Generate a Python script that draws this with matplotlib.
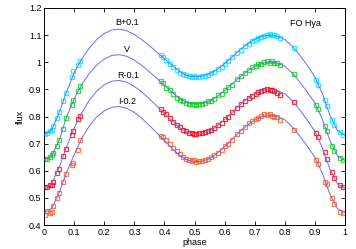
import matplotlib
matplotlib.use("Agg")
import matplotlib.pyplot as plt

plt.rcParams['font.family'] = ['Liberation Sans', 'DejaVu Sans']

# model curves (phase grid and fluxes)
model_phase = [0.000, 0.025, 0.050, 0.075, 0.100, 0.125, 0.150, 0.175, 0.200, 0.225,
               0.250, 0.275, 0.300, 0.325, 0.350, 0.375, 0.400, 0.425, 0.450, 0.475,
               0.500, 0.525, 0.550, 0.575, 0.600, 0.625, 0.650, 0.675, 0.700, 0.725,
               0.750, 0.775, 0.800, 0.825, 0.850, 0.875, 0.900, 0.925, 0.950, 0.975, 1.000]
model_B = [0.733, 0.750, 0.815, 0.892, 0.962, 1.012, 1.052, 1.084, 1.106, 1.119,
           1.122, 1.116, 1.102, 1.083, 1.061, 1.037, 1.013, 0.989, 0.966, 0.951,
           0.947, 0.949, 0.958, 0.973, 0.995, 1.020, 1.045, 1.067, 1.085, 1.096,
           1.100, 1.096, 1.084, 1.059, 1.026, 0.988, 0.946, 0.884, 0.805, 0.748, 0.731]
model_V = [0.640, 0.655, 0.712, 0.800, 0.866, 0.918, 0.958, 0.990, 1.012, 1.025,
           1.028, 1.022, 1.008, 0.988, 0.965, 0.940, 0.915, 0.890, 0.866, 0.851,
           0.846, 0.848, 0.857, 0.873, 0.895, 0.920, 0.945, 0.967, 0.985, 0.997,
           1.001, 0.997, 0.985, 0.960, 0.927, 0.890, 0.850, 0.790, 0.712, 0.655, 0.638]
model_R = [0.538, 0.553, 0.612, 0.690, 0.758, 0.813, 0.860, 0.894, 0.917, 0.930,
           0.933, 0.926, 0.911, 0.890, 0.865, 0.838, 0.811, 0.784, 0.759, 0.742,
           0.736, 0.738, 0.748, 0.765, 0.789, 0.815, 0.842, 0.865, 0.884, 0.896,
           0.900, 0.896, 0.884, 0.858, 0.824, 0.786, 0.745, 0.684, 0.606, 0.552, 0.536]
model_I = [0.446, 0.461, 0.520, 0.595, 0.660, 0.720, 0.765, 0.799, 0.821, 0.834,
           0.837, 0.830, 0.815, 0.793, 0.767, 0.739, 0.711, 0.683, 0.657, 0.640,
           0.633, 0.635, 0.646, 0.664, 0.689, 0.716, 0.744, 0.768, 0.787, 0.800,
           0.804, 0.800, 0.788, 0.762, 0.728, 0.690, 0.650, 0.590, 0.514, 0.461, 0.446]

# observations
obs_phase = [0.003, 0.010, 0.018, 0.025, 0.031, 0.042, 0.050, 0.064, 0.072, 0.092,
             0.097, 0.112, 0.120, 0.388, 0.395, 0.405, 0.418, 0.430, 0.440, 0.452,
             0.463, 0.470, 0.480, 0.490, 0.498, 0.505, 0.515, 0.525, 0.535, 0.545,
             0.556, 0.566, 0.578, 0.590, 0.600, 0.612, 0.625, 0.640, 0.655, 0.668,
             0.680, 0.692, 0.703, 0.712, 0.722, 0.732, 0.742, 0.750, 0.758, 0.765,
             0.775, 0.785, 0.830, 0.905, 0.912, 0.932, 0.940, 0.958, 0.965, 0.985, 0.993]
obs_B = [0.734, 0.738, 0.745, 0.752, 0.764, 0.795, 0.815, 0.857, 0.885, 0.946,
         0.968, 0.990, 1.005, 1.028, 1.020, 1.008, 0.995, 0.983, 0.972, 0.962,
         0.955, 0.952, 0.949, 0.946, 0.948, 0.944, 0.947, 0.950, 0.951, 0.954,
         0.960, 0.965, 0.975, 0.983, 0.993, 1.006, 1.018, 1.033, 1.046, 1.059,
         1.068, 1.078, 1.082, 1.090, 1.093, 1.098, 1.101, 1.103, 1.099, 1.102,
         1.097, 1.090, 1.052, 0.935, 0.918, 0.860, 0.840, 0.788, 0.770, 0.742, 0.733]
obs_V = [0.642, 0.644, 0.650, 0.658, 0.666, 0.693, 0.715, 0.754, 0.795, 0.844,
         0.862, 0.893, 0.912, 0.930, 0.922, 0.905, 0.897, 0.882, 0.870, 0.862,
         0.857, 0.850, 0.848, 0.845, 0.846, 0.843, 0.848, 0.846, 0.850, 0.857,
         0.858, 0.866, 0.878, 0.884, 0.897, 0.910, 0.918, 0.938, 0.948, 0.962,
         0.973, 0.982, 0.985, 0.994, 0.995, 1.001, 1.003, 0.998, 1.004, 0.996,
         0.999, 0.990, 0.955, 0.842, 0.826, 0.765, 0.748, 0.692, 0.674, 0.648, 0.641]
obs_R = [0.540, 0.542, 0.546, 0.548, 0.560, 0.591, 0.608, 0.653, 0.680, 0.733,
         0.748, 0.790, 0.801, 0.826, 0.818, 0.808, 0.793, 0.780, 0.770, 0.760,
         0.752, 0.748, 0.740, 0.738, 0.737, 0.735, 0.739, 0.738, 0.742, 0.745,
         0.752, 0.757, 0.768, 0.776, 0.792, 0.800, 0.815, 0.833, 0.845, 0.857,
         0.868, 0.876, 0.882, 0.889, 0.893, 0.898, 0.901, 0.897, 0.899, 0.893,
         0.885, 0.878, 0.852, 0.740, 0.726, 0.668, 0.642, 0.595, 0.575, 0.548, 0.540]
obs_I = [0.437, 0.452, 0.443, 0.448, 0.470, 0.499, 0.520, 0.560, 0.588, 0.622,
         0.628, 0.675, 0.715, 0.730, 0.725, 0.712, 0.700, 0.685, 0.672, 0.662,
         0.652, 0.645, 0.640, 0.636, 0.640, 0.633, 0.638, 0.636, 0.641, 0.645,
         0.650, 0.658, 0.665, 0.676, 0.690, 0.700, 0.715, 0.735, 0.748, 0.762,
         0.775, 0.783, 0.790, 0.795, 0.802, 0.808, 0.805, 0.810, 0.803, 0.800,
         0.798, 0.788, 0.750, 0.640, 0.625, 0.560, 0.550, 0.500, 0.478, 0.448, 0.446]

band_labels = ["B+0.1", "V", "R-0.1", "I-0.2"]
label_phase = [0.275, 0.275, 0.28, 0.275]
label_flux = [1.147, 1.046, 0.952, 0.857]
colors = ["#00e8ff", "#00dd00", "#ff0000", "#ff5a1e"]

fig = plt.figure(figsize=(3.56, 2.49), dpi=100)
ax = fig.add_axes([0.124, 0.096, 0.845, 0.872])

for obs, col in zip([obs_B, obs_V, obs_R, obs_I], colors):
    ax.plot(obs_phase, obs, linestyle='none', marker='s', ms=2.2, mfc='none',
            mec=col, mew=0.9, alpha=0.8, zorder=2)
for mod in [model_B, model_V, model_R, model_I]:
    ax.plot(model_phase, mod, color='#6a6aff', lw=0.7, zorder=3)

for t, px, fy in zip(band_labels, label_phase, label_flux):
    ax.text(px, fy, t, fontsize=6.5, ha='center', va='center')
ax.text(0.87, 1.141, "FO Hya", fontsize=6.5, ha='center', va='center')

ax.set_xlim(0, 1)
ax.set_ylim(0.4, 1.2)
ax.set_xticks([0, 0.1, 0.2, 0.3, 0.4, 0.5, 0.6, 0.7, 0.8, 0.9, 1])
ax.set_xticklabels(["0", "0.1", "0.2", "0.3", "0.4", "0.5", "0.6", "0.7", "0.8", "0.9", "1"])
ax.set_yticks([0.4, 0.5, 0.6, 0.7, 0.8, 0.9, 1.0, 1.1, 1.2])
ax.set_yticklabels(["0.4", "0.5", "0.6", "0.7", "0.8", "0.9", "1", "1.1", "1.2"])
ax.tick_params(direction='in', top=True, right=True, labelsize=6.5, length=3,
               width=0.6, pad=2)
for s in ax.spines.values():
    s.set_linewidth(0.7)
ax.set_xlabel("phase", fontsize=6.5, labelpad=1)
ax.set_ylabel("flux", fontsize=6.5, labelpad=3)

fig.savefig("out.png", dpi=100)
